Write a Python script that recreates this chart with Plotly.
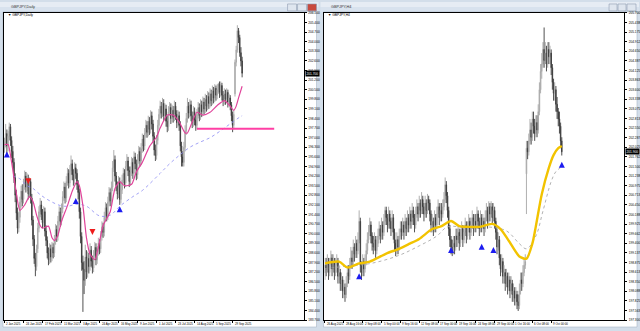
import plotly.graph_objects as go

# ---------------- LEFT : GBPJPY Daily ----------------
L_open = [
196.2, 196.6, 197.3, 196.4, 197.1, 197.8, 196.8, 196.0, 195.2, 194.1,
192.8, 191.5, 190.4, 191.2, 192.3, 193.1, 192.5, 193.6, 194.2, 193.4,
194.0, 192.9, 193.8, 192.6, 191.0, 189.6, 188.2, 187.6, 188.9, 190.4,
191.6, 192.1, 191.4, 190.8, 191.6, 190.2, 189.5, 188.6, 188.1, 188.9,
188.3, 189.0, 188.6, 189.5, 190.3, 189.8, 190.9, 191.6, 190.9, 191.8,
192.7, 193.4, 192.6, 193.8, 194.4, 193.7, 194.6, 195.1, 194.3, 193.9,
194.8, 194.4, 193.6, 193.0, 191.6, 189.8, 187.9, 187.4, 186.6, 188.3,
187.2, 188.2, 187.6, 188.8, 188.0, 187.5, 188.4, 189.0, 188.1, 188.7,
189.3, 188.9, 189.8, 190.5, 190.1, 191.2, 191.9, 191.3, 192.3, 193.0,
192.4, 193.4, 194.8, 195.4, 194.2, 193.5, 192.9, 193.8, 192.5, 193.2,
193.9, 194.4, 193.7, 194.9, 195.3, 194.6, 193.8, 194.5, 195.2, 194.4,
195.6, 195.1, 194.3, 195.4, 196.0, 195.3, 196.2, 196.9, 196.4, 197.3,
197.9, 197.4, 198.2, 197.6, 198.6, 198.0, 197.1, 196.1, 195.7, 196.8,
197.9, 198.7, 199.3, 198.8, 199.5, 198.6, 199.1, 198.2, 197.8, 198.9,
199.2, 198.4, 199.0, 198.5, 199.3, 198.7, 198.1, 198.6, 197.9, 196.4,
195.6, 195.2, 196.3, 197.5, 198.4, 199.3, 198.8, 199.4, 198.6, 198.1,
198.9, 198.3, 197.9, 198.7, 199.2, 198.6, 199.4, 198.9, 199.6, 199.1,
199.8, 199.3, 200.0, 199.5, 200.2, 199.7, 200.4, 199.9, 200.6, 200.1,
200.5, 200.9, 200.3, 200.8, 200.1, 199.7, 200.2, 199.8, 200.3, 199.6,
199.9, 199.4, 198.6, 197.9, 200.2, 202.5, 203.4, 204.8, 204.3, 203.2,
202.6]
L_high = [
197.0, 198.0, 197.6, 197.5, 198.1, 198.0, 197.1, 196.4, 195.5, 194.4,
193.2, 191.9, 191.6, 192.7, 193.5, 193.6, 194.0, 194.6, 194.5, 194.4,
194.3, 194.1, 194.0, 192.9, 191.3, 189.9, 188.6, 189.2, 190.8, 192.0,
192.6, 192.4, 191.8, 192.0, 191.9, 190.6, 189.8, 189.0, 189.3, 189.2,
189.4, 189.3, 189.9, 190.7, 190.6, 191.3, 192.0, 191.9, 192.2, 193.1,
193.8, 193.7, 194.2, 194.8, 194.7, 195.0, 195.7, 195.4, 194.7, 195.2,
195.1, 194.7, 193.9, 193.3, 191.9, 190.1, 188.4, 188.0, 189.2, 188.8,
188.7, 188.6, 189.3, 189.1, 188.4, 188.8, 189.4, 189.3, 189.1, 189.7,
189.6, 190.2, 190.9, 190.8, 191.6, 192.3, 192.2, 192.7, 193.4, 193.3,
193.8, 195.3, 196.1, 195.7, 194.5, 193.8, 194.2, 194.1, 193.6, 194.3,
194.8, 194.7, 195.3, 195.8, 195.6, 194.9, 194.9, 195.6, 195.5, 196.0,
195.9, 195.4, 195.8, 196.4, 196.3, 196.6, 197.3, 197.2, 197.7, 198.3,
198.2, 198.6, 198.5, 199.0, 198.9, 198.3, 197.4, 196.5, 197.2, 198.3,
199.1, 199.7, 199.6, 199.9, 199.8, 199.5, 199.4, 198.6, 199.3, 199.6,
199.5, 199.4, 199.3, 199.7, 199.6, 199.0, 199.0, 198.9, 198.2, 196.7,
196.0, 196.7, 197.9, 198.8, 199.9, 199.6, 199.8, 199.7, 198.9, 199.3,
199.2, 198.7, 199.1, 199.6, 199.5, 199.8, 199.7, 200.0, 199.9, 200.2,
200.1, 200.4, 200.3, 200.6, 200.5, 200.8, 200.7, 200.9, 200.8, 200.9,
201.0, 201.1, 201.1, 201.0, 200.4, 200.6, 200.5, 200.6, 200.5, 200.2,
200.1, 199.6, 198.9, 199.0, 202.7, 203.7, 205.2, 205.0, 204.5, 203.6,
202.9]
L_low = [
195.9, 196.3, 195.7, 196.0, 196.8, 196.4, 195.5, 194.8, 193.7, 192.3,
191.0, 190.0, 190.1, 190.8, 191.9, 192.0, 192.2, 193.2, 193.0, 193.1,
192.5, 192.6, 192.2, 190.6, 189.1, 187.8, 186.9, 187.3, 188.6, 190.1,
191.2, 191.0, 190.4, 190.5, 189.8, 189.1, 188.2, 187.7, 187.8, 187.9,
188.0, 188.2, 188.3, 189.2, 189.4, 189.5, 190.6, 190.5, 190.6, 191.5,
192.4, 192.2, 192.3, 193.5, 193.3, 193.4, 194.3, 193.9, 193.5, 193.6,
194.0, 193.2, 192.5, 191.1, 189.3, 187.3, 184.3, 185.6, 186.2, 186.7,
186.8, 187.1, 187.3, 187.6, 187.1, 187.2, 188.1, 187.7, 187.8, 188.4,
188.5, 188.6, 189.5, 189.7, 189.8, 190.9, 190.9, 191.0, 192.0, 192.0,
192.1, 193.1, 194.5, 193.8, 193.1, 192.5, 192.6, 192.1, 192.2, 192.9,
193.6, 193.3, 193.4, 194.6, 194.2, 193.4, 193.5, 194.2, 194.0, 194.1,
194.7, 193.9, 194.0, 195.1, 194.9, 195.0, 195.9, 196.0, 196.1, 197.0,
197.0, 197.1, 197.2, 197.3, 197.6, 196.7, 195.7, 195.3, 195.4, 196.5,
197.6, 198.4, 198.4, 198.5, 198.2, 198.3, 197.8, 197.4, 197.5, 198.6,
198.0, 198.1, 198.1, 198.2, 198.3, 197.7, 197.8, 197.5, 196.0, 194.9,
194.9, 194.9, 196.0, 197.2, 198.1, 198.4, 198.5, 198.2, 197.7, 197.8,
197.9, 197.5, 197.6, 198.4, 198.2, 198.3, 198.5, 198.6, 198.7, 198.8,
198.9, 199.0, 199.1, 199.2, 199.3, 199.4, 199.5, 199.6, 199.7, 199.8,
200.2, 199.9, 200.0, 199.7, 199.3, 199.4, 199.4, 199.5, 199.2, 199.3,
199.0, 198.2, 197.4, 197.6, 200.0, 202.2, 203.2, 203.9, 202.9, 202.2,
201.4]
L_close = [
196.6, 197.3, 196.4, 197.1, 197.8, 196.8, 196.0, 195.2, 194.1, 192.8,
191.5, 190.4, 191.2, 192.3, 193.1, 192.5, 193.6, 194.2, 193.4, 194.0,
192.9, 193.8, 192.6, 191.0, 189.6, 188.2, 187.6, 188.9, 190.4, 191.6,
192.1, 191.4, 190.8, 191.6, 190.2, 189.5, 188.6, 188.1, 188.9, 188.3,
189.0, 188.6, 189.5, 190.3, 189.8, 190.9, 191.6, 190.9, 191.8, 192.7,
193.4, 192.6, 193.8, 194.4, 193.7, 194.6, 195.1, 194.3, 193.9, 194.8,
194.4, 193.6, 193.0, 191.6, 189.8, 187.9, 187.4, 186.6, 188.3, 187.2,
188.2, 187.6, 188.8, 188.0, 187.5, 188.4, 189.0, 188.1, 188.7, 189.3,
188.9, 189.8, 190.5, 190.1, 191.2, 191.9, 191.3, 192.3, 193.0, 192.4,
193.4, 194.8, 195.4, 194.2, 193.5, 192.9, 193.8, 192.5, 193.2, 193.9,
194.4, 193.7, 194.9, 195.3, 194.6, 193.8, 194.5, 195.2, 194.4, 195.6,
195.1, 194.3, 195.4, 196.0, 195.3, 196.2, 196.9, 196.4, 197.3, 197.9,
197.4, 198.2, 197.6, 198.6, 198.0, 197.1, 196.1, 195.7, 196.8, 197.9,
198.7, 199.3, 198.8, 199.5, 198.6, 199.1, 198.2, 197.8, 198.9, 199.2,
198.4, 199.0, 198.5, 199.3, 198.7, 198.1, 198.6, 197.9, 196.4, 195.6,
195.2, 196.3, 197.5, 198.4, 199.3, 198.8, 199.4, 198.6, 198.1, 198.9,
198.3, 197.9, 198.7, 199.2, 198.6, 199.4, 198.9, 199.6, 199.1, 199.8,
199.3, 200.0, 199.5, 200.2, 199.7, 200.4, 199.9, 200.6, 200.1, 200.5,
200.9, 200.3, 200.8, 200.1, 199.7, 200.2, 199.8, 200.3, 199.6, 199.9,
199.4, 198.6, 197.9, 198.7, 202.5, 203.4, 204.8, 204.3, 203.2, 202.6,
201.7]

L_fast_bar = [0, 3, 6, 9, 13, 17, 21, 24, 27, 30, 32, 37, 40, 42, 45, 48, 53, 57, 61, 63,
              66, 69, 72, 76, 79, 83, 89, 93, 97, 101, 107, 111, 116, 122, 128, 131, 137, 142,
              147, 152, 154, 158, 162, 167, 173, 179, 185, 189, 193, 195, 197, 200]
L_fast_val = [196.5, 196.5, 195.2, 193.5, 191.7, 192.1, 192.7, 192.35, 191.35, 190.6, 190.4,
              190.55, 189.7, 189.5, 189.9, 190.9, 192.05, 193.1, 193.8, 193.5, 192.05, 189.7,
              188.5, 188.1, 189.0, 190.6, 191.6, 193.3, 193.8, 193.5, 193.6, 194.5, 195.2,
              196.35, 197.05, 197.7, 198.65, 198.65, 198.15, 197.35, 197.35, 198.15, 198.85,
              198.65, 198.85, 199.35, 199.7, 199.4, 199.0, 199.3, 199.9, 200.75]
L_slow_bar = [7, 13, 19, 24, 30, 38, 47, 53, 61, 69, 80, 89, 97, 108, 116, 131, 139, 147,
              156, 164, 173, 181, 189, 198, 200]
L_slow_val = [194.2, 194.0, 193.5, 193.3, 192.85, 192.4, 192.05, 192.0, 192.15, 192.0, 191.3,
              191.35, 192.0, 192.7, 193.15, 194.4, 195.1, 195.7, 196.3, 196.65, 197.0, 197.45,
              197.95, 198.5, 198.6]
L_up_bar = [2, 60, 97]
L_up_val = [196.0, 192.6, 192.0]
L_dn_bar = [20, 74]
L_dn_val = [193.6, 189.9]
L_level = 197.65
L_level_bars = [162, 227]
L_date_bar = [0, 16, 32, 48, 64, 80, 96, 112, 128, 144, 160, 176, 192]
L_date_txt = ["2 Jan 2025", "24 Jan 2025", "17 Feb 2025", "11 Mar 2025", "3 Apr 2025",
              "24 Apr 2025", "16 May 2025", "9 Jun 2025", "1 Jul 2025", "23 Jul 2025",
              "14 Aug 2025", "5 Sep 2025", "29 Sep 2025"]

# ---------------- RIGHT : GBPJPY H4 ----------------
R_open = [
198.6, 198.8, 198.7, 198.9, 198.6, 198.8, 199.0, 198.7, 198.9, 198.6,
198.8, 198.9, 198.5, 198.6, 198.3, 198.4, 198.1, 198.2, 198.0, 198.3,
198.6, 198.5, 198.8, 199.0, 198.9, 199.3, 199.1, 199.4, 199.2, 199.5,
200.0, 198.8, 198.6, 198.9, 198.7, 198.9, 199.2, 199.5, 199.7, 199.9,
199.6, 199.4, 199.3, 199.5, 199.2, 199.4, 199.6, 199.8, 199.6, 199.9,
199.7, 200.0, 200.3, 200.1, 199.9, 200.2, 200.0, 199.8, 200.1, 199.7,
199.4, 199.2, 199.5, 199.3, 199.6, 199.8, 199.7, 199.9, 199.7, 200.0,
199.8, 200.1, 199.9, 200.2, 200.0, 200.3, 200.1, 199.9, 200.2, 200.4,
200.2, 200.5, 200.3, 200.6, 200.4, 200.2, 200.5, 200.3, 200.6, 200.5,
200.2, 199.9, 200.0, 199.8, 200.1, 199.9, 200.2, 200.4, 200.1, 200.3,
200.2, 200.4, 200.6, 201.0, 200.7, 200.3, 199.8, 199.5, 199.3, 199.2,
199.4, 199.3, 199.6, 199.5, 199.7, 199.4, 199.6, 199.8, 199.5, 199.7,
199.9, 199.6, 199.8, 200.0, 199.7, 199.9, 200.1, 199.8, 200.0, 199.9,
200.2, 200.0, 199.8, 200.1, 199.9, 200.0, 199.8, 200.1, 200.3, 200.0,
200.4, 200.2, 200.4, 200.1, 200.3, 200.0, 199.7, 199.3, 199.5, 199.0,
198.7, 198.9, 198.5, 198.6, 198.3, 198.5, 198.2, 198.4, 198.1, 198.3,
198.0, 198.1, 197.9, 198.0, 197.8, 197.7, 198.1, 198.4, 198.3, 198.6,
198.8, 201.3, 202.0, 201.9, 202.2, 202.5, 202.3, 202.8, 202.6, 202.4,
202.7, 202.5, 203.0, 203.6, 204.1, 204.3, 204.7, 204.4, 204.6, 204.3,
204.7, 204.5, 204.6, 204.2, 203.8, 203.5, 203.6, 203.2, 203.0, 202.8,
202.6, 202.2]
R_high = [
199.0, 199.0, 199.1, 199.0, 199.0, 199.2, 199.1, 199.1, 199.0, 199.0,
199.1, 199.0, 198.8, 198.7, 198.6, 198.5, 198.4, 198.3, 198.5, 198.8,
198.8, 199.0, 199.3, 199.2, 199.5, 199.4, 199.6, 199.5, 199.7, 200.3,
200.1, 198.9, 199.1, 199.0, 199.1, 199.4, 199.7, 199.9, 200.1, 200.0,
199.7, 199.6, 199.7, 199.6, 199.6, 199.8, 200.0, 199.9, 200.1, 200.0,
200.2, 200.4, 200.4, 200.2, 200.4, 200.3, 200.1, 200.3, 200.2, 199.8,
199.5, 199.7, 199.6, 199.8, 200.0, 200.0, 200.1, 200.0, 200.2, 200.1,
200.3, 200.2, 200.4, 200.3, 200.5, 200.4, 200.2, 200.4, 200.6, 200.5,
200.7, 200.6, 200.8, 200.7, 200.5, 200.7, 200.6, 200.75, 200.7, 200.6,
200.3, 200.2, 200.1, 200.3, 200.2, 200.4, 200.6, 200.5, 200.5, 200.5,
200.6, 200.8, 201.2, 201.1, 200.8, 200.4, 199.9, 199.6, 199.5, 199.6,
199.6, 199.8, 199.8, 199.9, 199.8, 199.8, 200.0, 199.9, 199.9, 200.1,
200.0, 200.0, 200.2, 200.1, 200.1, 200.3, 200.2, 200.2, 200.2, 200.4,
200.3, 200.1, 200.3, 200.2, 200.2, 200.1, 200.3, 200.5, 200.4, 200.55,
200.5, 200.55, 200.5, 200.5, 200.4, 200.1, 199.8, 199.7, 199.6, 199.1,
199.1, 199.0, 198.8, 198.7, 198.7, 198.6, 198.6, 198.5, 198.5, 198.4,
198.3, 198.2, 198.2, 198.1, 198.0, 198.3, 198.6, 198.6, 198.8, 199.0,
199.1, 202.2, 202.2, 202.4, 202.8, 202.7, 203.0, 203.0, 202.8, 202.9,
202.9, 203.2, 203.8, 204.3, 204.6, 204.9, 205.3, 204.9, 204.8, 204.9,
204.9, 204.8, 204.7, 204.3, 203.9, 203.8, 203.7, 203.4, 203.1, 203.0,
202.7, 202.3]
R_low = [
198.4, 198.5, 198.6, 198.4, 198.5, 198.7, 198.5, 198.6, 198.4, 198.5,
198.6, 198.3, 198.3, 198.1, 198.1, 197.9, 197.9, 197.8, 197.9, 198.2,
198.3, 198.4, 198.7, 198.7, 198.8, 198.9, 199.0, 199.0, 199.1, 199.4,
198.6, 198.4, 198.5, 198.5, 198.6, 198.8, 199.1, 199.4, 199.6, 199.4,
199.2, 199.1, 199.2, 199.0, 199.1, 199.3, 199.5, 199.4, 199.5, 199.5,
199.6, 199.9, 199.9, 199.7, 199.8, 199.8, 199.6, 199.7, 199.5, 199.2,
199.05, 199.1, 199.1, 199.2, 199.5, 199.5, 199.6, 199.5, 199.6, 199.6,
199.7, 199.7, 199.8, 199.8, 199.9, 199.9, 199.7, 199.8, 200.1, 200.0,
200.1, 200.1, 200.2, 200.2, 200.0, 200.1, 200.1, 200.2, 200.3, 200.0,
199.7, 199.7, 199.6, 199.7, 199.7, 199.8, 200.1, 199.9, 200.0, 200.0,
200.1, 200.3, 200.5, 200.5, 200.1, 199.6, 199.3, 199.1, 199.05, 199.1,
199.1, 199.2, 199.3, 199.4, 199.2, 199.3, 199.5, 199.3, 199.4, 199.6,
199.4, 199.5, 199.7, 199.5, 199.6, 199.8, 199.6, 199.7, 199.7, 199.8,
199.8, 199.6, 199.7, 199.7, 199.8, 199.6, 199.7, 200.0, 199.8, 199.9,
200.0, 200.1, 199.9, 200.0, 199.8, 199.5, 199.1, 199.2, 198.8, 198.5,
198.6, 198.3, 198.3, 198.1, 198.2, 198.0, 198.1, 197.9, 198.0, 197.8,
197.8, 197.7, 197.7, 197.6, 197.55, 197.6, 198.0, 198.1, 198.2, 198.5,
198.7, 200.2, 201.7, 201.8, 202.1, 202.1, 202.2, 202.4, 202.2, 202.3,
202.3, 202.4, 202.9, 203.5, 203.9, 204.2, 204.2, 204.3, 204.1, 204.2,
204.3, 204.3, 204.0, 203.6, 203.3, 203.3, 203.0, 202.8, 202.6, 202.4,
202.0, 201.8]
R_close = [
198.8, 198.7, 198.9, 198.6, 198.8, 199.0, 198.7, 198.9, 198.6, 198.8,
198.9, 198.5, 198.6, 198.3, 198.4, 198.1, 198.2, 198.0, 198.3, 198.6,
198.5, 198.8, 199.0, 198.9, 199.3, 199.1, 199.4, 199.2, 199.5, 200.0,
198.8, 198.6, 198.9, 198.7, 198.9, 199.2, 199.5, 199.7, 199.9, 199.6,
199.4, 199.3, 199.5, 199.2, 199.4, 199.6, 199.8, 199.6, 199.9, 199.7,
200.0, 200.3, 200.1, 199.9, 200.2, 200.0, 199.8, 200.1, 199.7, 199.4,
199.2, 199.5, 199.3, 199.6, 199.8, 199.7, 199.9, 199.7, 200.0, 199.8,
200.1, 199.9, 200.2, 200.0, 200.3, 200.1, 199.9, 200.2, 200.4, 200.2,
200.5, 200.3, 200.6, 200.4, 200.2, 200.5, 200.3, 200.6, 200.5, 200.2,
199.9, 200.0, 199.8, 200.1, 199.9, 200.2, 200.4, 200.1, 200.3, 200.2,
200.4, 200.6, 201.0, 200.7, 200.3, 199.8, 199.5, 199.3, 199.2, 199.4,
199.3, 199.6, 199.5, 199.7, 199.4, 199.6, 199.8, 199.5, 199.7, 199.9,
199.6, 199.8, 200.0, 199.7, 199.9, 200.1, 199.8, 200.0, 199.9, 200.2,
200.0, 199.8, 200.1, 199.9, 200.0, 199.8, 200.1, 200.3, 200.0, 200.4,
200.2, 200.4, 200.1, 200.3, 200.0, 199.7, 199.3, 199.5, 199.0, 198.7,
198.9, 198.5, 198.6, 198.3, 198.5, 198.2, 198.4, 198.1, 198.3, 198.0,
198.1, 197.9, 198.0, 197.8, 197.7, 198.1, 198.4, 198.3, 198.6, 198.8,
198.9, 202.0, 201.9, 202.2, 202.5, 202.3, 202.8, 202.6, 202.4, 202.7,
202.5, 203.0, 203.6, 204.1, 204.3, 204.7, 204.4, 204.6, 204.3, 204.7,
204.5, 204.6, 204.2, 203.8, 203.5, 203.6, 203.2, 203.0, 202.8, 202.6,
202.2, 201.9]

R_fast_bar = [0, 12, 19, 29, 38, 52, 63, 72, 80, 91, 99, 107, 114, 122, 131, 142, 149, 156,
              165, 171, 176, 179, 184, 190, 194, 198, 201]
R_fast_val = [198.85, 198.9, 198.74, 198.85, 198.9, 199.12, 199.25, 199.39, 199.52, 199.79,
              199.87, 200.01, 199.87, 199.85, 199.85, 199.93, 199.79, 199.47, 199.04, 198.98,
              199.39, 199.87, 200.74, 201.46, 201.81, 202.0, 202.06]
R_slow_bar = [0, 17, 39, 62, 80, 95, 104, 122, 137, 154, 165, 171, 179, 185, 192, 196, 201]
R_slow_val = [198.71, 198.77, 198.85, 199.06, 199.33, 199.6, 199.85, 199.82, 199.85, 199.74,
              199.39, 199.25, 199.6, 200.28, 201.09, 201.36, 201.49]
R_up_bar = [29, 107, 133, 143, 201]
R_up_val = [198.58, 199.3, 199.39, 199.3, 201.63]
R_date_bar = [0, 16, 32, 48, 64, 80, 96, 112, 128, 144, 160, 176, 192]
R_date_txt = ["26 Aug 2025", "28 Aug 16:00", "2 Sep 08:00", "5 Sep 00:00", "9 Sep 16:00",
              "12 Sep 08:00", "17 Sep 00:00", "19 Sep 16:00", "24 Sep 08:00", "29 Sep 00:00",
              "1 Oct 16:00", "6 Oct 08:00", "9 Oct 00:00"]

# ---------------- figure ----------------
W, H = 640, 331
FONT = "Liberation Sans"


def fx(p):
    return p / W


def fy(p):
    return 1 - p / H


fig = go.Figure()


def add_chart(o, h, l, c, xa, ya):
    fig.add_trace(go.Candlestick(
        x=list(range(len(c))), open=o, high=h, low=l, close=c,
        xaxis=xa, yaxis=ya, hoverinfo="skip", whiskerwidth=0,
        increasing=dict(line=dict(color="#a6a6a6", width=0.9), fillcolor="#d4d4d4"),
        decreasing=dict(line=dict(color="#3c3c3c", width=0.9), fillcolor="#2e2e2e"),
        showlegend=False))


add_chart(L_open, L_high, L_low, L_close, "x", "y")
add_chart(R_open, R_high, R_low, R_close, "x2", "y2")

# left indicators
fig.add_trace(go.Scatter(x=L_slow_bar, y=L_slow_val, mode="lines", xaxis="x", yaxis="y",
                         line=dict(color="#8a8af2", width=0.8, dash="dot", shape="spline"),
                         showlegend=False, hoverinfo="skip"))
fig.add_trace(go.Scatter(x=L_fast_bar, y=L_fast_val, mode="lines", xaxis="x", yaxis="y",
                         line=dict(color="#e0449a", width=1.2, shape="spline", smoothing=0.6),
                         showlegend=False, hoverinfo="skip"))
fig.add_trace(go.Scatter(x=L_level_bars, y=[L_level, L_level], mode="lines", xaxis="x", yaxis="y",
                         line=dict(color="#ff3fa4", width=2), showlegend=False, hoverinfo="skip"))
fig.add_trace(go.Scatter(x=L_up_bar, y=L_up_val, mode="markers", xaxis="x", yaxis="y",
                         marker=dict(symbol="arrow-up", size=6, color="#1c1cf0"),
                         showlegend=False, hoverinfo="skip"))
fig.add_trace(go.Scatter(x=L_dn_bar, y=L_dn_val, mode="markers", xaxis="x", yaxis="y",
                         marker=dict(symbol="arrow-down", size=6, color="#ee1c1c"),
                         showlegend=False, hoverinfo="skip"))

# right indicators
fig.add_trace(go.Scatter(x=R_slow_bar, y=R_slow_val, mode="lines", xaxis="x2", yaxis="y2",
                         line=dict(color="#a0a0a0", width=0.8, dash="dot", shape="spline"),
                         showlegend=False, hoverinfo="skip"))
fig.add_trace(go.Scatter(x=R_fast_bar, y=R_fast_val, mode="lines", xaxis="x2", yaxis="y2",
                         line=dict(color="#f2c300", width=2.4, shape="spline", smoothing=0.7),
                         showlegend=False, hoverinfo="skip"))
fig.add_trace(go.Scatter(x=R_up_bar, y=R_up_val, mode="markers", xaxis="x2", yaxis="y2",
                         marker=dict(symbol="arrow-up", size=6, color="#1c1cf0"),
                         showlegend=False, hoverinfo="skip"))

# axes
bar_px_L, bar_px_R = 1.19, 1.18
common_x = dict(showgrid=False, zeroline=False, showticklabels=False, showline=True,
                mirror=True, linecolor="#000", linewidth=1, ticks="outside", ticklen=2,
                tickcolor="#000", rangeslider=dict(visible=False), fixedrange=True)
common_y = dict(showgrid=False, zeroline=False, side="right", showline=True, mirror=True,
                linecolor="#000", linewidth=1, ticks="outside", ticklen=2, tickcolor="#000",
                tickformat=".3f", tickfont=dict(family=FONT, size=3.2, color="#000"),
                ticklabelstandoff=1,
                domain=[fy(322), fy(11)], fixedrange=True)

fig.update_layout(
    width=W, height=H, margin=dict(l=0, r=0, t=0, b=0),
    paper_bgcolor="#d3deea", plot_bgcolor="#ffffff",
    xaxis=dict(common_x, domain=[fx(4), fx(304)], range=[-0.42, -0.42 + 300 / bar_px_L],
               tickvals=L_date_bar, anchor="y"),
    yaxis=dict(common_y, range=[183.7, 206.1], tick0=183.7, dtick=0.7, anchor="x"),
    xaxis2=dict(common_x, domain=[fx(325), fx(625)], range=[-0.42, -0.42 + 300 / bar_px_R],
                tickvals=R_date_bar, anchor="y2"),
    yaxis2=dict(common_y, range=[197.3, 205.7], tick0=197.3, dtick=0.2625, anchor="x2"),
    showlegend=False,
)

shapes = []


def rect(x0, y0, x1, y1, fill, line=None, lw=0):
    shapes.append(dict(type="rect", xref="paper", yref="paper", x0=fx(x0), x1=fx(x1),
                       y0=fy(y1), y1=fy(y0), fillcolor=fill,
                       line=dict(color=line or fill, width=lw), layer="below"))


# window frames / title bars
for (a, b) in [(0, 319), (321, 640)]:
    rect(a, 0, b, 5, "#e6ecf4")
    rect(a, 5, b, 10, "#d8e2ee")
    rect(a + 3, 10, b - 2, 329, "#ffffff", "#a9b6c6", 0.6)
# buttons
for (a, b, col) in [(288, 297, "#dfe6ef"), (298, 307, "#dfe6ef"), (308, 317, "#c8493d"),
                    (610, 618, "#dfe6ef"), (619, 627, "#dfe6ef"), (628, 637, "#dfe6ef")]:
    shapes.append(dict(type="rect", xref="paper", yref="paper", x0=fx(a), x1=fx(b),
                       y0=fy(9), y1=fy(2), fillcolor=col,
                       line=dict(color="#8d9bb0", width=0.6), layer="above"))
fig.update_layout(shapes=shapes)

ann = []
ann.append(dict(x=fx(9), y=fy(5), xref="paper", yref="paper", text="GBPJPY,Daily",
                showarrow=False, xanchor="left", yanchor="middle",
                font=dict(family=FONT, size=3.8, color="#333")))
ann.append(dict(x=fx(330), y=fy(5), xref="paper", yref="paper", text="GBPJPY,H4",
                showarrow=False, xanchor="left", yanchor="middle",
                font=dict(family=FONT, size=3.8, color="#333")))
ann.append(dict(x=fx(6), y=fy(13), xref="paper", yref="paper", text="▼ GBPJPY,Daily",
                showarrow=False, xanchor="left", yanchor="middle",
                font=dict(family=FONT, size=3.3, color="#000")))
ann.append(dict(x=fx(327), y=fy(13), xref="paper", yref="paper", text="▼ GBPJPY,H4",
                showarrow=False, xanchor="left", yanchor="middle",
                font=dict(family=FONT, size=3.3, color="#000")))
for b, t in zip(L_date_bar, L_date_txt):
    ann.append(dict(x=b, y=fy(325.5), xref="x", yref="paper", text=t, showarrow=False,
                    xanchor="left", yanchor="middle",
                    font=dict(family=FONT, size=2.9, color="#000")))
for b, t in zip(R_date_bar, R_date_txt):
    ann.append(dict(x=b, y=fy(325.5), xref="x2", yref="paper", text=t, showarrow=False,
                    xanchor="left", yanchor="middle",
                    font=dict(family=FONT, size=2.9, color="#000")))
# current price boxes
ann.append(dict(x=fx(305), y=L_close[-1], xref="paper", yref="y", text=f"{L_close[-1]:.3f}",
                showarrow=False, xanchor="left", yanchor="middle", bgcolor="#000",
                borderpad=0.5, font=dict(family=FONT, size=3.2, color="#fff")))
ann.append(dict(x=fx(626), y=R_close[-1], xref="paper", yref="y2", text=f"{R_close[-1]:.3f}",
                showarrow=False, xanchor="left", yanchor="middle", bgcolor="#000",
                borderpad=0.5, font=dict(family=FONT, size=3.2, color="#fff")))
fig.update_layout(annotations=ann)

fig.write_html("out.html")
